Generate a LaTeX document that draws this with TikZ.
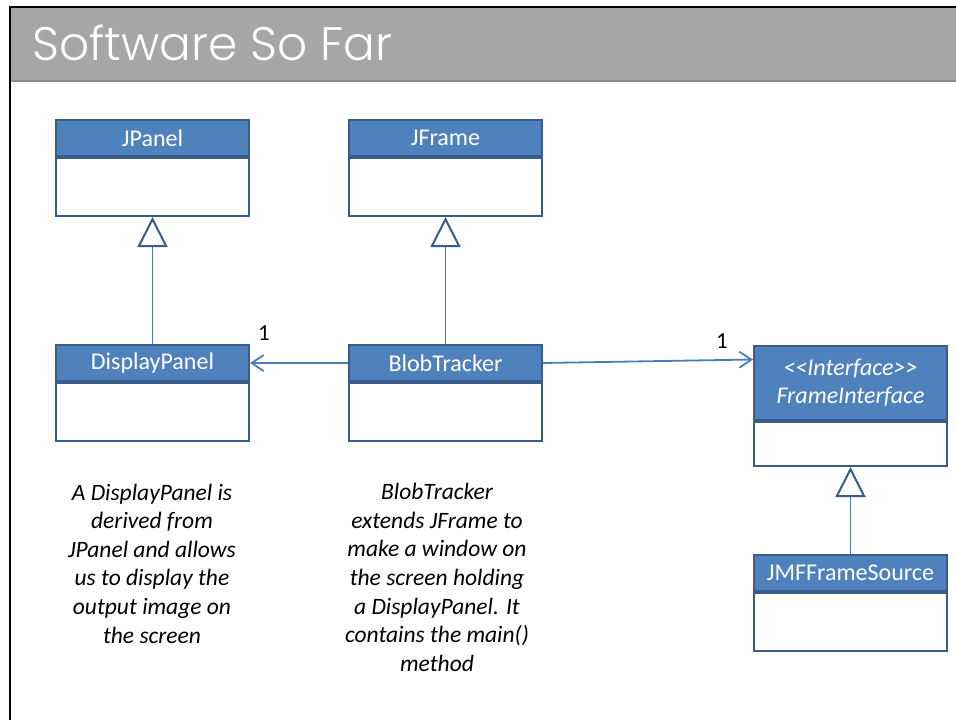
\documentclass[tikz,border=0pt]{standalone}
\usepackage{fontspec}
\setmainfont{Carlito}
\newfontfamily\titlefont{Poppins}[UprightFont=* Light]
\usetikzlibrary{arrows.meta}
\definecolor{hdrfill}{HTML}{4F81BD}
\definecolor{hdrline}{HTML}{385D8A}
\definecolor{connline}{HTML}{4A7EBB}
\definecolor{barfill}{HTML}{A6A6A6}
\definecolor{barline}{HTML}{8C8C8C}
\tikzset{
  hdr/.style={draw=hdrline, fill=hdrfill, line width=2pt, minimum width=193pt, minimum height=36pt,
    inner sep=0pt, anchor=north west, text=white, font=\fontsize{24}{28}\selectfont},
  bdy/.style={draw=hdrline, fill=white, line width=2pt, minimum width=193pt, minimum height=58pt,
    inner sep=0pt, anchor=north west},
  inherit/.style={draw=connline, line width=1.3pt,
    -{Triangle[width=30pt,length=30pt,fill=white,color=hdrline,line width=2pt]}},
  assoc/.style={draw=connline, line width=1.8pt,
    -{Straight Barb[length=12pt,width=16pt,line width=1.8pt]}},
  mult/.style={font=\fontsize{23}{24}\selectfont, text=black, inner sep=0pt},
  caption/.style={align=center, font=\fontsize{23.5}{28.6}\selectfont\itshape, inner sep=0pt}
}
\begin{document}
\begin{tikzpicture}[x=1pt,y=-1pt]
\useasboundingbox (0,0) rectangle (956,720);
\fill[white] (0,0) rectangle (956,720);
% title bar
\fill[barfill] (10,7) rectangle (960,80);
\fill[barline] (10,79.5) rectangle (960,82);
\draw[line width=2.5pt] (10,722) -- (10,7) -- (960,7);
\node[anchor=west, text=white, font=\titlefont\fontsize{47}{50}\selectfont, inner sep=0pt] (title) at (32,43) {Software So Far};

% classes
\node[hdr] (jpH) at (55,119) {JPanel};
\node[bdy] (jp) at (jpH.south west) {};
\node[hdr] (jfH) at (348,119) {JFrame};
\node[bdy] (jf) at (jfH.south west) {};
\node[hdr] (dpH) at (55,344) {DisplayPanel};
\node[bdy] (dp) at (dpH.south west) {};
\node[hdr] (btH) at (348,344) {BlobTracker};
\node[bdy] (bt) at (btH.south west) {};
\node[hdr, minimum height=74pt, align=center, font=\fontsize{24}{28}\selectfont\itshape] (fiH) at (753,345) {<{}<Interface>{}>\\FrameInterface};
\node[bdy, minimum height=44pt] (fi) at (fiH.south west) {};
\node[hdr] (jmH) at (753,554) {JMFFrameSource};
\node[bdy] (jm) at (jmH.south west) {};

% generalisations
\draw[inherit] (dpH.north) -- (jp.south);
\draw[inherit] (btH.north) -- (jf.south);
\draw[inherit] (jmH.north) -- (fi.south);

% associations
\draw[assoc] (btH.west) -- (dpH.east);
\draw[assoc] (btH.east) -- ([yshift=23.5pt]fiH.west);
\node[mult] (m1) at (264,333) {1};
\node[mult] (m2) at (722,341) {1};

% captions
\node[caption] (c1) at (152,563.5) {A DisplayPanel is\\derived from\\JPanel and allows\\us to display the\\output image on\\the screen};
\node[caption] (c2) at (437,577.5) {BlobTracker\\extends JFrame to\\make a window on\\the screen holding\\a DisplayPanel. It\\contains the main()\\method};
\end{tikzpicture}
\end{document}
